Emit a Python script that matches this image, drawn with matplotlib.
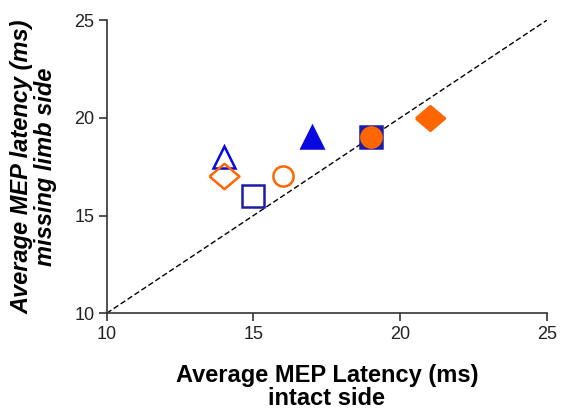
import numpy as np
import matplotlib.pyplot as plt

plt.rcParams['font.family'] = ['Liberation Sans', 'DejaVu Sans']

BLUE = '#0808e0'
NAVY = '#1c1ca8'
ORANGE = '#ff6600'

# wide diamond used in the original figure
DIAMOND = [(-1, 0), (0, 0.85), (1, 0), (0, -0.85), (-1, 0)]

# intact side vs missing limb side latencies (ms)
intact = [14, 14, 15, 16, 17, 19, 19, 21]
missing = [18, 17, 16, 17, 19, 19, 19, 20]
markers = ['^', DIAMOND, 's', 'o', '^', 's', 'o', DIAMOND]
filled = [False, False, False, False, True, True, True, True]
colors = [BLUE, ORANGE, NAVY, ORANGE, BLUE, NAVY, ORANGE, ORANGE]
sizes = [15.5, 21.5, 15.5, 14.5, 16, 15.5, 14.5, 21]

fig = plt.figure(figsize=(5.65, 4.11), dpi=100)
ax = fig.add_axes([0.189, 0.238, 0.779, 0.713])

ax.plot([10, 25], [10, 25], ls=(0, (4, 2)), color='black', lw=1, zorder=1)

for x, y, m, f, c, s in zip(intact, missing, markers, filled, colors, sizes):
    ax.plot(x, y, marker=m, ms=s, mec=c, mfc=c if f else 'none',
            mew=1.8, ls='none', zorder=3)

ax.set_xlim(10, 25)
ax.set_ylim(10, 25)
ax.set_xticks([10, 15, 20, 25])
ax.set_yticks([10, 15, 20, 25])
for side in ['top', 'right']:
    ax.spines[side].set_visible(False)
for side in ['left', 'bottom']:
    ax.spines[side].set_linewidth(1.2)
    ax.spines[side].set_color('#333333')
ax.tick_params(direction='out', length=6, width=1.2, colors='#333333',
               labelsize=13, pad=3)
for lab in ax.get_xticklabels() + ax.get_yticklabels():
    lab.set_color('#222222')

ax.set_xlabel('Average MEP Latency (ms)\nintact side', fontsize=17, fontweight='bold',
              linespacing=1.0, labelpad=15)
ax.set_ylabel('Average MEP latency (ms)\nmissing limb side', fontsize=17, fontweight='bold',
              fontstyle='italic', linespacing=1.05, labelpad=12)

fig.savefig('out.png', dpi=100)
